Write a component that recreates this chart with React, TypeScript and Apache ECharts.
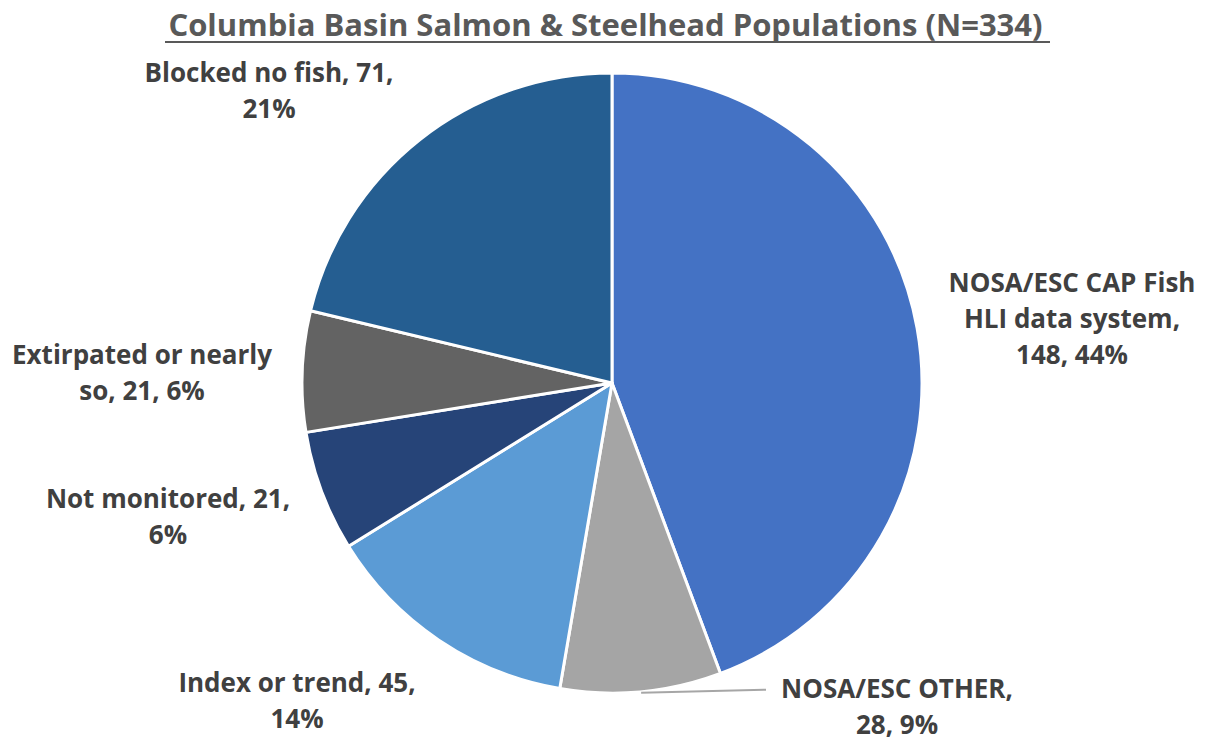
import React, { useEffect, useRef } from "react";
import * as echarts from "echarts";

const categories = [
  "NOSA/ESC CAP Fish HLI data system",
  "NOSA/ESC OTHER",
  "Index or trend",
  "Not monitored",
  "Extirpated or nearly so",
  "Blocked no fish",
];
const values = [148, 28, 45, 21, 21, 71];
const labelTexts = [
  "NOSA/ESC CAP Fish\nHLI data system,\n148, 44%",
  "NOSA/ESC OTHER,\n28, 9%",
  "Index or trend, 45,\n14%",
  "Not monitored, 21,\n6%",
  "Extirpated or nearly\nso, 21, 6%",
  "Blocked no fish, 71,\n21%",
];
const colors = ["#4472C4", "#A5A5A5", "#5B9BD5", "#264478", "#636363", "#255E91"];
const labelPos = [
  [1072, 318],
  [897, 706],
  [297, 700],
  [168, 516],
  [142, 372],
  [269, 90],
];

const CX = 612;
const CY = 383;
const R = 310;

export default function App() {
  const ref = useRef<HTMLDivElement>(null);
  useEffect(() => {
    if (!ref.current) return;
    const chart = echarts.init(ref.current, null, { renderer: "svg" });
    const total = values.reduce((a, b) => a + b, 0);
    const midFrac = (values[0] + values[1] / 2) / total;
    const theta = midFrac * Math.PI * 2;
    const ax = CX + R * Math.sin(theta);
    const ay = CY - R * Math.cos(theta);
    chart.setOption({
      animation: false,
      backgroundColor: "#ffffff",
      title: {
        text: "Columbia Basin Salmon & Steelhead Populations (N=334)",
        left: "center",
        top: 3,
        textStyle: {
          fontFamily: "Open Sans",
          fontWeight: "bold",
          fontSize: 31,
          color: "#595959",
        },
      },
      graphic: [
        {
          type: "line",
          shape: { x1: 165, y1: 42, x2: 1050, y2: 42 },
          style: { stroke: "#595959", lineWidth: 2 },
        },
        {
          type: "line",
          z: 10,
          shape: { x1: ax, y1: ay + 1, x2: 766, y2: ay - 2 },
          style: { stroke: "#A6A6A6", lineWidth: 2 },
        },
      ],
      series: [
        {
          type: "pie",
          center: [CX, CY],
          radius: R,
          startAngle: 90,
          clockwise: true,
          itemStyle: { borderColor: "#ffffff", borderWidth: 3 },
          label: {
            show: true,
            fontFamily: "Open Sans",
            fontWeight: "bold",
            fontSize: 26,
            lineHeight: 36,
            color: "#404040",
            align: "center",
            overflow: "none",
            width: 400,
            formatter: (p: any) => labelTexts[p.dataIndex],
          },
          labelLine: { show: false },
          labelLayout: (p: any) => ({
            x: labelPos[p.dataIndex][0],
            y: labelPos[p.dataIndex][1],
            align: "center",
            verticalAlign: "middle",
          }),
          data: categories.map((c, i) => ({
            name: c,
            value: values[i],
            itemStyle: { color: colors[i] },
          })),
        },
      ],
    });
    return () => chart.dispose();
  }, []);
  return (
    <div
      ref={ref}
      style={{ position: "fixed", left: 0, top: 0, width: 1211, height: 742 }}
    />
  );
}
